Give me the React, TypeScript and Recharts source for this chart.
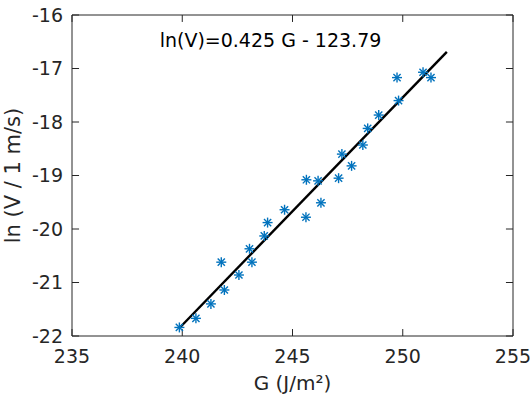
import React from "react";
import { ComposedChart, Scatter, Line, XAxis, YAxis, ReferenceLine } from "recharts";

// measured G values (J/m²) and ln(V)
const gValues = [
  239.87, 240.62, 241.3, 241.77, 241.91, 242.57, 243.05, 243.16, 243.72, 243.87,
  244.64, 245.61, 245.63, 246.16, 246.29, 247.09, 247.24, 247.68, 248.19, 248.41,
  248.91, 249.74, 249.81, 250.92, 251.28,
];
const lnV = [
  -21.84, -21.67, -21.4, -20.62, -21.14, -20.86, -20.37, -20.62, -20.13, -19.88,
  -19.64, -19.78, -19.08, -19.1, -19.51, -19.05, -18.6, -18.82, -18.43, -18.12,
  -17.87, -17.17, -17.6, -17.07, -17.17,
];

// fitted line end points
const fitG = [239.85, 252];
const fitLnV = [-21.86, -16.69];

const xTicks = [235, 240, 245, 250, 255];
const yTicks = [-22, -21, -20, -19, -18, -17, -16];

const points = gValues.map((g, i) => ({ g, v: lnV[i] }));
const fit = fitG.map((g, i) => ({ g, v: fitLnV[i] }));

const AXIS = "#262626";
const FONT = "DejaVu Sans, sans-serif";
const X_MIN = 235;
const X_MAX = 255;
const Y_MIN = -22;
const Y_MAX = -16;
// inward tick length (~7px) in data units
const TX = 0.13;
const TY = 0.32;

const Asterisk = (props: any) => {
  const { cx, cy } = props;
  const r = 5;
  const d = 3.6;
  return (
    <g stroke="#0072BD" strokeWidth={1.4}>
      <line x1={cx - r} y1={cy} x2={cx + r} y2={cy} />
      <line x1={cx} y1={cy - r} x2={cx} y2={cy + r} />
      <line x1={cx - d} y1={cy - d} x2={cx + d} y2={cy + d} />
      <line x1={cx - d} y1={cy + d} x2={cx + d} y2={cy - d} />
    </g>
  );
};

export default function App() {
  const tickStyle = { fill: AXIS, fontSize: 19, fontFamily: FONT };
  return (
    <div style={{ position: "absolute", left: 0, top: 0, width: 530, height: 394, background: "#fff" }}>
      <ComposedChart width={530} height={394} margin={{ top: 15, right: 17, bottom: 0, left: 0 }}>
        <XAxis
          dataKey="g"
          type="number"
          domain={[X_MIN, X_MAX]}
          ticks={xTicks}
          height={58}
          tickLine={false}
          tickSize={0}
          tickMargin={14}
          stroke={AXIS}
          tick={tickStyle}
          label={{ value: "G (J/m²)", position: "insideBottom", offset: 4, fill: AXIS, fontSize: 20, fontFamily: FONT }}
        />
        <YAxis
          type="number"
          domain={[Y_MIN, Y_MAX]}
          ticks={yTicks}
          width={72}
          tickLine={false}
          tickSize={0}
          tickMargin={9}
          stroke={AXIS}
          tick={tickStyle}
          label={{
            value: "ln (V / 1 m/s)",
            angle: -90,
            position: "insideLeft",
            offset: 13,
            fill: AXIS,
            fontSize: 21,
            fontFamily: FONT,
            style: { textAnchor: "middle" },
          }}
        />
        {/* box: top and right edges */}
        <ReferenceLine y={Y_MAX} stroke={AXIS} ifOverflow="visible" />
        <ReferenceLine x={X_MAX} stroke={AXIS} ifOverflow="visible" />
        {/* inward ticks on all four sides */}
        {xTicks.map((t) => (
          <ReferenceLine key={"xb" + t} segment={[{ x: t, y: Y_MIN }, { x: t, y: Y_MIN + TX }]} stroke={AXIS} ifOverflow="visible" />
        ))}
        {xTicks.map((t) => (
          <ReferenceLine key={"xt" + t} segment={[{ x: t, y: Y_MAX }, { x: t, y: Y_MAX - TX }]} stroke={AXIS} ifOverflow="visible" />
        ))}
        {yTicks.map((t) => (
          <ReferenceLine key={"yl" + t} segment={[{ x: X_MIN, y: t }, { x: X_MIN + TY, y: t }]} stroke={AXIS} ifOverflow="visible" />
        ))}
        {yTicks.map((t) => (
          <ReferenceLine key={"yr" + t} segment={[{ x: X_MAX, y: t }, { x: X_MAX - TY, y: t }]} stroke={AXIS} ifOverflow="visible" />
        ))}
        <Line
          data={fit}
          dataKey="v"
          type="linear"
          stroke="#000"
          strokeWidth={2.4}
          dot={false}
          isAnimationActive={false}
        />
        <Scatter data={points} dataKey="v" shape={<Asterisk />} isAnimationActive={false} />
      </ComposedChart>
      <div
        style={{
          position: "absolute",
          left: 0,
          width: 541,
          top: 31,
          textAlign: "center",
          fontFamily: FONT,
          fontSize: 19,
          lineHeight: "19px",
          color: "#000",
          whiteSpace: "nowrap",
        }}
      >
        ln(V)=0.425 G - 123.79
      </div>
    </div>
  );
}
